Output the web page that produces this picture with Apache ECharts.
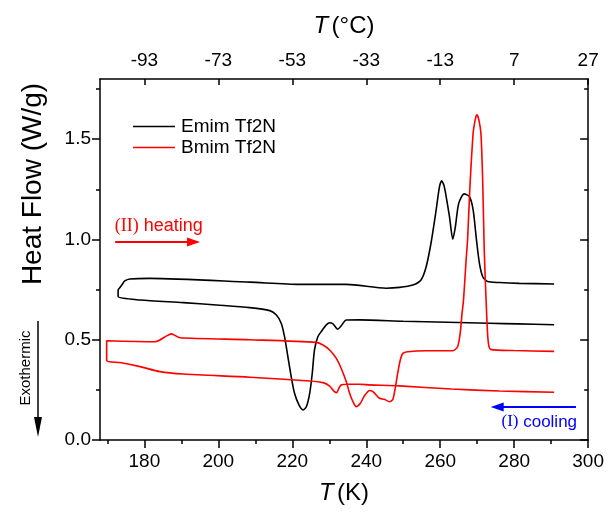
<!DOCTYPE html>
<html>
<head>
<meta charset="utf-8">
<script src="https://cdn.jsdelivr.net/npm/echarts@6/dist/echarts.min.js"></script>
<style>
  html, body { margin: 0; padding: 0; background: #fff; }
  #chart { width: 607px; height: 513px; }
</style>
</head>
<body>
<div id="chart"></div>
<script>
// DSC heat flow (W/g) versus temperature (K).
// Each trace is a cooling scan (high T -> low T) followed by the heating scan.

const emimCoolT  = [290.8, 281.0, 273.3, 262.0, 250.0, 238.2, 234.6, 233.2, 232.3, 231.0, 230.1, 229.2, 227.8, 226.9, 226.0, 225.4, 224.7, 223.8, 222.9, 221.8, 220.6, 219.7, 218.8, 217.9, 217.0, 215.7, 213.9, 208.5, 199.5, 190.5, 178.8, 172.9];
const emimCoolHF = [0.575, 0.579, 0.582, 0.587, 0.592, 0.599, 0.598, 0.569, 0.552, 0.579, 0.585, 0.574, 0.540, 0.515, 0.449, 0.333, 0.233, 0.166, 0.150, 0.175, 0.233, 0.316, 0.416, 0.515, 0.582, 0.623, 0.645, 0.660, 0.673, 0.685, 0.698, 0.715];

const emimHeatT  = [172.9, 173.2, 173.9, 174.7, 176.1, 181.5, 208.5, 222.0, 234.6, 245.4, 249.0, 252.6, 254.8, 256.2, 257.5, 258.9, 259.8, 260.4, 261.1, 262.5, 263.4, 264.1, 265.0, 266.5, 267.9, 268.9, 269.8, 270.6, 271.5, 272.8, 276.0, 281.4, 290.8];
const emimHeatHF = [0.748, 0.756, 0.773, 0.793, 0.803, 0.806, 0.787, 0.776, 0.776, 0.757, 0.761, 0.773, 0.798, 0.864, 0.981, 1.147, 1.263, 1.293, 1.263, 1.114, 1.001, 1.064, 1.180, 1.227, 1.213, 1.147, 0.998, 0.881, 0.814, 0.790, 0.785, 0.781, 0.778];

const bmimCoolT  = [290.8, 276.0, 263.0, 249.0, 240.9, 238.2, 234.6, 233.2, 232.6, 232.0, 231.4, 230.1, 228.3, 224.7, 208.5, 190.5, 184.2, 178.8, 173.4, 169.8];
const bmimCoolHF = [0.238, 0.244, 0.254, 0.270, 0.275, 0.278, 0.278, 0.274, 0.258, 0.236, 0.241, 0.269, 0.286, 0.294, 0.313, 0.329, 0.341, 0.366, 0.386, 0.396];

const bmimHeatT  = [169.8, 182.8, 184.2, 186.0, 187.3, 188.2, 189.6, 208.5, 226.5, 228.3, 230.1, 231.9, 233.2, 234.6, 235.5, 236.4, 237.3, 238.4, 239.5, 240.9, 241.8, 243.6, 244.9, 246.3, 247.2, 247.9, 248.5, 249.2, 249.9, 251.2, 256.2, 263.4, 264.7, 265.4, 265.9, 266.3, 267.0, 267.4, 268.0, 268.9, 269.5, 269.9, 270.4, 271.0, 271.5, 271.9, 272.4, 272.8, 273.1, 273.6, 280.0, 290.8];
const bmimHeatHF = [0.495, 0.490, 0.499, 0.519, 0.529, 0.522, 0.510, 0.500, 0.487, 0.474, 0.449, 0.407, 0.358, 0.291, 0.233, 0.191, 0.166, 0.183, 0.220, 0.247, 0.241, 0.208, 0.203, 0.191, 0.203, 0.266, 0.333, 0.399, 0.432, 0.440, 0.445, 0.445, 0.465, 0.532, 0.632, 0.698, 0.898, 1.000, 1.250, 1.530, 1.600, 1.621, 1.600, 1.530, 1.280, 0.948, 0.698, 0.532, 0.474, 0.452, 0.446, 0.442];

// Axis ticks
const kelvinTicks        = [180, 200, 220, 240, 260, 280, 300];
const kelvinMinorTicks   = [170, 190, 210, 230, 250, 270, 290];
const heatFlowTicks      = [0, 0.5, 1.0, 1.5];
const heatFlowMinorTicks = [0.25, 0.75, 1.25, 1.75];

const seriesNames = ['Emim Tf2N', 'Bmim Tf2N'];
const seriesColors = ['#000000', '#ff0000'];

const T_MIN = 168, T_MAX = 300, HF_MIN = 0, HF_MAX = 1.8;
const FONT = 'Liberation Sans, Arial, sans-serif';
const SERIF = 'Liberation Serif, Times New Roman, serif';

function pairs(xs, ys) { return xs.map((x, i) => [x, ys[i]]); }
const emimData = pairs(emimCoolT, emimCoolHF).concat(pairs(emimHeatT, emimHeatHF));
const bmimData = pairs(bmimCoolT, bmimCoolHF).concat(pairs(bmimHeatT, bmimHeatHF));

const tickStyle = { color: '#000', width: 1.5 };

// labels: object -> labelled axis with line; false -> line and ticks only; null -> ticks only
function axisDef(position, min, max, values, len, inside, labels) {
  return {
    type: 'value', position, min, max,
    axisLine: labels === null ? { show: false } : { show: true, onZero: false, lineStyle: { color: '#000', width: 1.5 } },
    splitLine: { show: false },
    axisTick: { show: true, inside, length: len, customValues: values, lineStyle: tickStyle },
    axisLabel: labels ? Object.assign({ customValues: values, color: '#000', fontSize: 19, fontFamily: FONT }, labels) : { show: false }
  };
}
const xAxisDef = (p, v, l, i, lab) => axisDef(p, T_MIN, T_MAX, v, l, i, lab);
const yAxisDef = (p, v, l, i, lab) => axisDef(p, HF_MIN, HF_MAX, v, l, i, lab);

const axisTitleRich = {
  i: { fontStyle: 'italic', fontSize: 24, fontFamily: FONT, color: '#000' },
  n: { fontSize: 24, fontFamily: FONT, color: '#000' }
};

const bottomAxis = xAxisDef('bottom', kelvinTicks, 8, false, { margin: 12, formatter: v => String(v) });
Object.assign(bottomAxis, {
  name: '{i|T} {n|(K)}', nameLocation: 'middle', nameGap: 41,
  nameTextStyle: { rich: axisTitleRich }
});
const topAxis = xAxisDef('top', kelvinTicks, 6, true, { margin: 9, formatter: v => String(v - 273) });
Object.assign(topAxis, {
  name: '{i|T} {n|(°C)}', nameLocation: 'middle', nameGap: 41,
  nameTextStyle: { rich: axisTitleRich }
});

const chart = echarts.init(document.getElementById('chart'), null, { renderer: 'canvas' });

chart.setOption({
  animation: false,
  backgroundColor: '#fff',
  grid: { left: 100, right: 18, top: 79, bottom: 73, containLabel: false },
  legend: {
    data: seriesNames.map(n => ({ name: n, icon: 'rect' })),
    orient: 'vertical', left: 128, top: 112,
    itemWidth: 42, itemHeight: 1.6, itemGap: 2,
    textStyle: { fontSize: 19, fontFamily: FONT, color: '#000', lineHeight: 19, padding: [0, 0, 0, 1] }
  },
  xAxis: [
    bottomAxis,
    xAxisDef('bottom', kelvinMinorTicks, 4, false, null),
    topAxis,
    xAxisDef('top', kelvinMinorTicks, 4, true, null)
  ],
  yAxis: [
    yAxisDef('left', heatFlowTicks, 8, false, { margin: 9, formatter: v => v.toFixed(1) }),
    yAxisDef('left', heatFlowMinorTicks, 4, false, null),
    yAxisDef('right', heatFlowTicks, 8, true, false),
    yAxisDef('right', heatFlowMinorTicks, 4, true, null)
  ],
  series: [
    {
      name: seriesNames[0], type: 'line', xAxisIndex: 0, yAxisIndex: 0,
      data: emimData, showSymbol: false, smooth: 0.25,
      lineStyle: { color: seriesColors[0], width: 1.6 }, itemStyle: { color: seriesColors[0] }
    },
    {
      name: seriesNames[1], type: 'line', xAxisIndex: 0, yAxisIndex: 0,
      data: bmimData, showSymbol: false, smooth: 0.25,
      lineStyle: { color: seriesColors[1], width: 1.6 }, itemStyle: { color: seriesColors[1] },
      markLine: {
        silent: true, symbol: ['none', 'triangle'], symbolSize: [9, 13],
        label: { show: false },
        data: [
          [{ coord: [172.1, 0.987], lineStyle: { color: '#ff0000', width: 2, type: 'solid' }, itemStyle: { color: '#ff0000' } },
           { coord: [193.3, 0.987] }],
          [{ coord: [296.7, 0.165], lineStyle: { color: '#0000ff', width: 2, type: 'solid' }, itemStyle: { color: '#0000ff' } },
           { coord: [275.4, 0.165] }]
        ]
      }
    }
  ]
});

// Scan-direction captions placed in data coordinates
const heatPos = chart.convertToPixel({ gridIndex: 0 }, [172.0, 1.067]);
const coolPos = chart.convertToPixel({ gridIndex: 0 }, [297.0, 0.09]);

chart.setOption({
  graphic: [
    {
      type: 'text', x: 33, y: 184, rotation: Math.PI / 2,
      style: { text: 'Heat Flow (W/g)', font: '28px ' + FONT, fill: '#000', align: 'center', verticalAlign: 'middle' }
    },
    {
      type: 'text', x: 26, y: 368, rotation: Math.PI / 2,
      style: { text: 'Exothermic', font: '15px ' + FONT, fill: '#000', align: 'center', verticalAlign: 'middle' }
    },
    { type: 'line', shape: { x1: 38, y1: 321, x2: 38, y2: 420 }, style: { stroke: '#000', lineWidth: 1.5 } },
    { type: 'polygon', shape: { points: [[34, 417], [42, 417], [38, 437]] }, style: { fill: '#000' } },
    {
      type: 'text', x: heatPos[0], y: heatPos[1],
      style: {
        text: '{s|(II)}{t| heating}', align: 'left', verticalAlign: 'middle',
        rich: {
          s: { font: '18px ' + SERIF, fill: '#ff0000' },
          t: { font: '18px ' + FONT, fill: '#ff0000' }
        }
      }
    },
    {
      type: 'text', x: coolPos[0], y: coolPos[1],
      style: {
        text: '{s|(I)}{t| cooling}', align: 'right', verticalAlign: 'middle',
        rich: {
          s: { font: '17px ' + SERIF, fill: '#0000ff' },
          t: { font: '17px ' + FONT, fill: '#0000ff' }
        }
      }
    }
  ]
});
</script>
</body>
</html>
